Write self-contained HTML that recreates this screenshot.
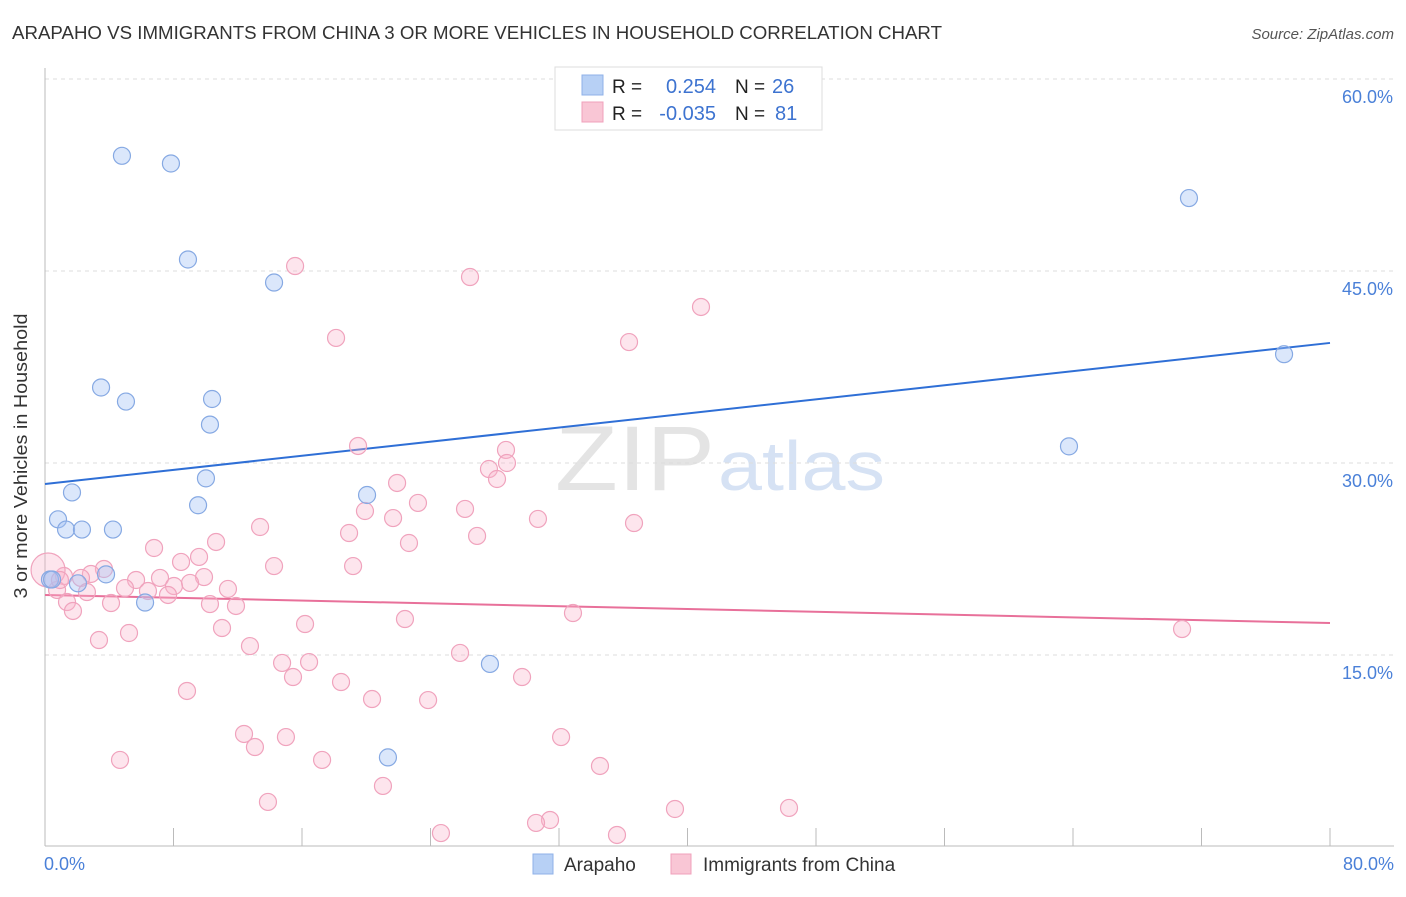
<!DOCTYPE html>
<html><head><meta charset="utf-8"><style>
body{margin:0;background:#fff;font-family:"Liberation Sans",sans-serif;}
svg text{font-family:"Liberation Sans",sans-serif;}
</style></head><body>
<svg id="chart" width="1406" height="892">
<text x="12" y="39" font-size="18" fill="#333" textLength="930" lengthAdjust="spacingAndGlyphs">ARAPAHO VS IMMIGRANTS FROM CHINA 3 OR MORE VEHICLES IN HOUSEHOLD CORRELATION CHART</text>
<text x="1394" y="39" font-size="15" fill="#555" font-style="italic" text-anchor="end">Source: ZipAtlas.com</text>
<text x="555" y="490" font-size="92" fill="#e4e4e4" textLength="160" lengthAdjust="spacingAndGlyphs" font-family="Liberation Serif">ZIP</text>
<text x="718" y="490" font-size="70" fill="#d6e2f4" textLength="167" lengthAdjust="spacingAndGlyphs">atlas</text>
<g id="grid"></g><g id="axes"></g><g id="lines"></g><g id="pts"></g>
<text x="27" y="456" font-size="18" fill="#333" text-anchor="middle" textLength="285" lengthAdjust="spacingAndGlyphs" transform="rotate(-90 27 456)">3 or more Vehicles in Household</text>
<g>
<rect x="555" y="67" width="267" height="63" fill="#fff" stroke="#ddd"/>
<rect x="582" y="75" width="21" height="20" fill="#b7d0f5" stroke="#8fb1e8"/>
<rect x="582" y="102" width="21" height="20" fill="#f9c6d5" stroke="#f0a0bb"/>
<text x="612" y="93" font-size="19" fill="#222">R =</text><text x="716" y="93" font-size="20" fill="#3d73d0" text-anchor="end">0.254</text>
<text x="735" y="93" font-size="19" fill="#222">N =</text><text x="772" y="93" font-size="20" fill="#3d73d0">26</text>
<text x="612" y="120" font-size="19" fill="#222">R =</text><text x="716" y="120" font-size="20" fill="#3d73d0" text-anchor="end">-0.035</text>
<text x="735" y="120" font-size="19" fill="#222">N =</text><text x="775" y="120" font-size="20" fill="#3d73d0">81</text>
</g>
<g>
<rect x="533" y="854" width="20" height="20" fill="#b7d0f5" stroke="#8fb1e8"/>
<text x="564" y="871" font-size="19" fill="#333">Arapaho</text>
<rect x="671" y="854" width="20" height="20" fill="#f9c6d5" stroke="#f0a0bb"/>
<text x="703" y="871" font-size="19" fill="#333">Immigrants from China</text>
</g>
</svg>
<script>
const xTicks=[0,8,16,24,32,40,48,56,64,72,80];
const yTicks=[15,30,45,60];
const blueX=[4.79,7.84,8.90,14.26,3.49,5.04,10.40,10.27,10.02,9.53,1.68,0.81,1.31,2.30,4.23,20.05,0.31,2.05,3.80,6.23,27.70,21.35,71.22,77.14,63.75,0.44];
const blueY=[54.0,53.4,45.9,44.1,35.9,34.8,35.0,33.0,28.8,26.7,27.7,25.6,24.8,24.8,24.8,27.5,20.9,20.6,21.3,19.1,14.3,7.0,50.7,38.5,31.3,20.9];
const pinkX=[15.57,26.46,40.84,18.12,36.36,19.49,28.70,27.64,28.76,28.14,21.92,23.22,26.15,19.92,21.67,30.69,36.67,13.39,18.93,26.90,22.66,10.65,6.79,8.47,9.59,19.18,14.26,3.67,2.86,1.18,2.24,5.67,7.16,9.90,9.03,8.03,11.39,4.98,6.41,7.66,2.61,0.75,1.37,4.11,10.27,11.89,1.74,32.87,22.41,16.19,11.02,5.23,3.36,12.76,25.84,14.76,16.44,15.44,29.70,18.43,8.84,20.36,23.85,12.39,15.00,32.13,13.07,17.25,4.67,34.55,21.04,13.88,39.22,46.32,31.44,30.57,24.65,35.61,70.79,0.19,0.93];
const pinkY=[45.39,44.53,42.19,39.77,39.45,31.33,31.02,29.53,30.0,28.75,28.44,26.88,26.41,26.25,25.70,25.63,25.31,25.0,24.53,24.30,23.75,23.83,23.36,22.27,22.66,21.95,21.95,21.72,21.33,21.17,21.02,20.86,21.02,21.09,20.63,20.39,20.16,20.23,20.0,19.69,19.92,20.08,19.14,19.06,18.98,18.83,18.44,18.28,17.81,17.42,17.11,16.72,16.17,15.70,15.16,14.38,14.45,13.28,13.28,12.89,12.19,11.56,11.48,8.83,8.59,8.59,7.81,6.80,6.80,6.33,4.77,3.52,2.97,3.05,2.11,1.88,1.09,0.94,17.03,21.64,20.86];
const blueTrend=[28.36,39.38];
const pinkTrend=[19.69,17.5];
const NS='http://www.w3.org/2000/svg';
const sx=v=>45+v/80*1285, sy=v=>847-v*12.8;
function mk(tag,attrs,parent){const e=document.createElementNS(NS,tag);for(const k in attrs)e.setAttribute(k,attrs[k]);document.getElementById(parent).appendChild(e);return e;}
yTicks.forEach(t=>{
 const l=mk('line',{x1:45,x2:1394,y1:sy(t),y2:sy(t),stroke:'#ddd','stroke-dasharray':'4,4'},'grid');
 
 
 const tx=mk('text',{x:1393,y:sy(t)+24,'font-size':18,fill:'#4a80d8','text-anchor':'end'},'grid');tx.textContent=t.toFixed(1)+'%';
 
 
});
const ax=mk('line',{x1:45,x2:1394,y1:846,y2:846,stroke:'#bbb'},'axes');


const ay=mk('line',{x1:45,x2:45,y1:68,y2:846,stroke:'#bbb'},'axes');


xTicks.forEach(t=>{const l=mk('line',{x1:sx(t),x2:sx(t),y1:828,y2:846,stroke:'#bbb'},'axes');
 
 });
[[0,'start'],[80,'end']].forEach(([t,a])=>{const tx=mk('text',{x:t==0?44:1394,y:870,'font-size':18,fill:'#4a80d8','text-anchor':a},'axes');tx.textContent=t.toFixed(1)+'%';
 
 });
const bl=mk('line',{x1:sx(0),x2:sx(80),y1:sy(blueTrend[0]),y2:sy(blueTrend[1]),stroke:'#2f6fd6','stroke-width':2},'lines');


const pl=mk('line',{x1:sx(0),x2:sx(80),y1:sy(pinkTrend[0]),y2:sy(pinkTrend[1]),stroke:'#e8709a','stroke-width':2},'lines');


pinkX.forEach((v,i)=>{const c=mk('circle',{cx:sx(v),cy:sy(pinkY[i]),r:i==79?17:8.5,fill:'rgba(248,180,202,0.35)',stroke:'#f0a3bd','stroke-width':1.2},'pts');
 
 });
blueX.forEach((v,i)=>{const c=mk('circle',{cx:sx(v),cy:sy(blueY[i]),r:8.5,fill:'rgba(164,196,244,0.4)',stroke:'#86a9e3','stroke-width':1.2},'pts');
 
 });
</script>
</body></html>
